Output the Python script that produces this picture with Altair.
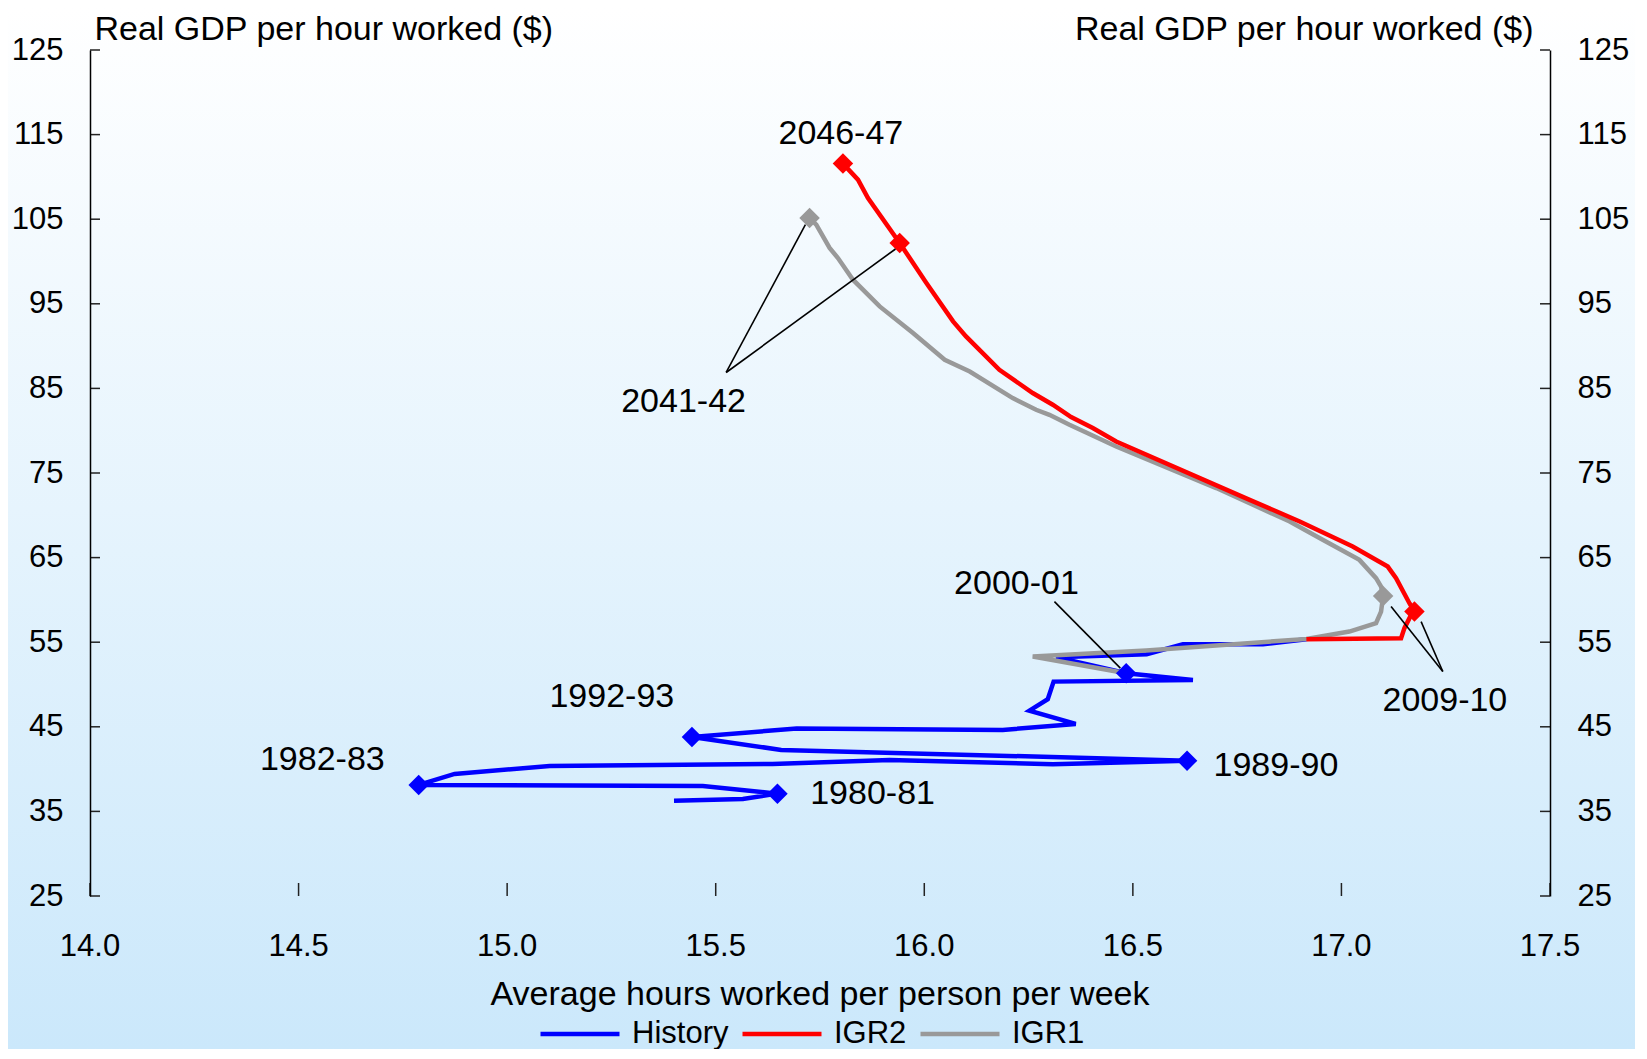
import altair as alt
import pandas as pd

FONT = "Liberation Sans, Arial, sans-serif"

# ---------------- data ----------------
hist_x = [15.40, 15.565, 15.648, 15.469, 14.788, 14.874, 15.102, 15.636, 15.917, 16.308, 16.630,
          15.657, 15.443, 15.694, 16.188, 16.363, 16.252, 16.296, 16.310, 16.644, 16.484,
          16.316, 16.533, 16.62, 16.812, 16.916]
hist_y = [36.27, 36.47, 37.10, 38.01, 38.13, 39.43, 40.37, 40.61, 41.08, 40.57, 41.0,
          42.27, 43.8, 44.79, 44.63, 45.34, 46.91, 48.26, 50.34, 50.54, 51.34,
          53.23, 53.58, 54.76, 54.76, 55.36]

igr2_x = [16.916, 17.143, 17.151, 17.167, 17.175, 17.163, 17.131, 17.111, 17.027, 16.90, 16.78,
          16.46, 16.404, 16.352, 16.308, 16.26, 16.18, 16.10, 16.069, 16.005, 15.941, 15.865,
          15.841, 15.805]
igr2_y = [55.36, 55.47, 56.66, 58.23, 58.62, 59.61, 62.57, 63.94, 66.31, 69.27, 71.83,
          78.72, 80.31, 81.61, 83.07, 84.45, 87.20, 91.14, 92.92, 97.46, 102.19, 107.51,
          109.67, 111.57]

igr1_x = [16.484, 16.26, 16.532, 16.916, 17.019, 17.083, 17.095, 17.10, 17.095, 17.083, 17.043,
          16.955, 16.876, 16.70, 16.46, 16.388, 16.348, 16.30, 16.268, 16.212, 16.109, 16.049,
          15.973, 15.893, 15.829, 15.793, 15.773, 15.741, 15.725]
igr1_y = [51.34, 53.3, 54.01, 55.39, 56.26, 57.25, 58.62, 60.45, 61.58, 62.57, 64.73,
          67.1, 69.27, 73.22, 78.13, 79.79, 80.70, 81.88, 82.47, 83.86, 87.0, 88.39,
          91.54, 94.69, 97.85, 100.41, 101.6, 104.35, 105.14]

marker_series = ["History"] * 5 + ["IGR1"] * 2 + ["IGR2"] * 3
marker_x = [15.648, 14.788, 16.630, 15.443, 16.484, 17.10, 15.725, 17.175, 15.941, 15.805]
marker_y = [37.10, 38.13, 41.0, 43.8, 51.34, 60.45, 105.14, 58.62, 102.19, 111.57]

ann_text = ["2046-47", "2041-42", "2000-01", "1992-93", "1982-83", "1980-81", "1989-90", "2009-10"]
ann_x = [15.80, 15.423, 16.221, 15.251, 14.557, 15.876, 16.843, 17.248]
ann_y = [115.05, 83.38, 61.9, 48.47, 41.02, 37.05, 40.41, 48.1]

lead_x = [15.525, 15.525, 16.312, 17.243, 17.243]
lead_y = [86.88, 86.88, 59.8, 51.53, 51.53]
lead_x2 = [15.715, 15.931, 16.47, 17.119, 17.191]
lead_y2 = [104.35, 101.48, 51.93, 59.21, 57.44]

x_ticks = [14.0, 14.5, 15.0, 15.5, 16.0, 16.5, 17.0, 17.5]
x_tick_labels = ["14.0", "14.5", "15.0", "15.5", "16.0", "16.5", "17.0", "17.5"]
y_ticks = [25, 35, 45, 55, 65, 75, 85, 95, 105, 115, 125]
x_title = ["Average hours worked per person per week"]

series_names = ["History", "IGR2", "IGR1"]
series_colors = ["#0000ff", "#ff0000", "#999999"]
color_of = dict(zip(series_names, series_colors))

# ---------------- tables ----------------
def series_df(name, xs, ys):
    return pd.DataFrame({"series": name, "x": xs, "y": ys, "idx": list(range(len(xs)))})

hist_df = series_df("History", hist_x, hist_y)
igr2_df = series_df("IGR2", igr2_x, igr2_y)
igr1_df = series_df("IGR1", igr1_x, igr1_y)
marker_df = pd.DataFrame({"series": marker_series, "x": marker_x, "y": marker_y,
                          "mcolor": [color_of[s] for s in marker_series]})
ann_df = pd.DataFrame({"label": ann_text, "x": ann_x, "y": ann_y})
lead_df = pd.DataFrame({"x": lead_x, "y": lead_y, "x2": lead_x2, "y2": lead_y2})
xt_df = pd.DataFrame({"v": x_ticks, "lab": x_tick_labels})
yt_df = pd.DataFrame({"v": y_ticks})
xtitle_df = pd.DataFrame({"t": x_title})

W, H = 1460, 846
PAD = {"left": 82, "top": 42, "right": 85, "bottom": 153}

x_scale = alt.Scale(domain=[14, 17.5], nice=False, zero=False)
y_scale = alt.Scale(domain=[25, 125], nice=False, zero=False)

common_axis = dict(ticks=False, tickSize=0, grid=False, domain=True, domainColor="#000000",
                   domainWidth=1.5, labelFont=FONT, labelFontSize=31, labelColor="#000000",
                   labelFlush=False, labelOverlap=False, titleFont=FONT, titleFontSize=34,
                   titleFontWeight="normal", titleColor="#000000", zindex=2)

left_axis = alt.Axis(orient="left", values=y_ticks, labelPadding=27,
                     title="Real GDP per hour worked ($)", titleAngle=0, titleAlign="left",
                     titleBaseline="alphabetic", titleX=4, titleY=-11, **common_axis)
right_axis = alt.Axis(orient="right", values=y_ticks, labelPadding=27,
                      title="Real GDP per hour worked ($)", titleAngle=0, titleAlign="right",
                      titleBaseline="alphabetic", titleX=-17, titleY=-11, **common_axis)
bottom_axis = alt.Axis(orient="bottom", values=x_ticks, labels=False, title=None, **common_axis)

color_enc = alt.Color(
    "series:N",
    scale=alt.Scale(domain=series_names, range=series_colors),
    legend=alt.Legend(orient="none", legendX=448, legendY=942, direction="horizontal",
                      title=None, symbolType="stroke", symbolStrokeWidth=4.5, symbolSize=6241,
                      labelFont=FONT, labelFontSize=31, labelColor="#000000", labelOffset=10,
                      columnPadding=4, padding=0, zindex=2),
)

# ---------------- layers ----------------
bg = alt.Chart(alt.Data(values=[{}])).mark_rect(
    fill={"gradient": "linear", "x1": 0, "y1": 0, "x2": 0, "y2": 1,
          "stops": [{"offset": 0, "color": "#ffffff"}, {"offset": 1, "color": "#cbe8fb"}]}
).encode(x=alt.value(-PAD["left"]), x2=alt.value(W + PAD["right"]),
         y=alt.value(-PAD["top"]), y2=alt.value(H + PAD["bottom"]))

left_ticks = alt.Chart(yt_df).mark_rule(color="#222222", strokeWidth=1.5).encode(
    y=alt.Y("v:Q", scale=y_scale, axis=left_axis), x=alt.value(0), x2=alt.value(10))
right_ticks = alt.Chart(yt_df).mark_rule(color="#222222", strokeWidth=1.5).encode(
    y=alt.Y("v:Q", scale=y_scale, axis=right_axis), x=alt.value(W - 10), x2=alt.value(W))
bottom_ticks = alt.Chart(xt_df).mark_rule(color="#222222", strokeWidth=1.5).encode(
    x=alt.X("v:Q", scale=x_scale, axis=bottom_axis), y=alt.value(H - 13), y2=alt.value(H))
bottom_labels = alt.Chart(xt_df).mark_text(font=FONT, fontSize=31, color="#000000",
                                           align="center", baseline="middle").encode(
    x=alt.X("v:Q", scale=x_scale, axis=None), y=alt.value(H + 51), text="lab:N")
bottom_title = alt.Chart(xtitle_df).mark_text(font=FONT, fontSize=34, color="#000000",
                                              align="center", baseline="alphabetic").encode(
    x=alt.value(W / 2), y=alt.value(H + 109), text="t:N")

def line_layer(df):
    return alt.Chart(df).mark_line(strokeWidth=4.5).encode(
        x=alt.X("x:Q", scale=x_scale, axis=None),
        y=alt.Y("y:Q", scale=y_scale, axis=None),
        order=alt.Order("idx:Q"),
        color=color_enc,
    )

hist_line = line_layer(hist_df)
igr1_line = line_layer(igr1_df)
igr2_line = line_layer(igr2_df)

markers = alt.Chart(marker_df).mark_point(shape="diamond", filled=True, size=420, opacity=1).encode(
    x=alt.X("x:Q", scale=x_scale, axis=None),
    y=alt.Y("y:Q", scale=y_scale, axis=None),
    color=alt.Color("mcolor:N", scale=None),
)

leaders = alt.Chart(lead_df).mark_rule(color="#000000", strokeWidth=1.6).encode(
    x=alt.X("x:Q", scale=x_scale, axis=None),
    y=alt.Y("y:Q", scale=y_scale, axis=None),
    x2="x2:Q", y2="y2:Q",
)

labels = alt.Chart(ann_df).mark_text(font=FONT, fontSize=34, color="#000000",
                                     align="center", baseline="middle").encode(
    x=alt.X("x:Q", scale=x_scale, axis=None),
    y=alt.Y("y:Q", scale=y_scale, axis=None),
    text="label:N",
)

chart = alt.layer(
    bg, left_ticks, right_ticks, bottom_ticks, bottom_labels, bottom_title,
    hist_line, igr1_line, igr2_line, markers, leaders, labels,
).properties(
    width=W, height=H, padding=PAD, autosize=alt.AutoSizeParams(type="none"),
).configure_view(stroke=None).configure(background="#ffffff")

chart.save("out.html", embed_options={"renderer": "svg", "actions": False})
